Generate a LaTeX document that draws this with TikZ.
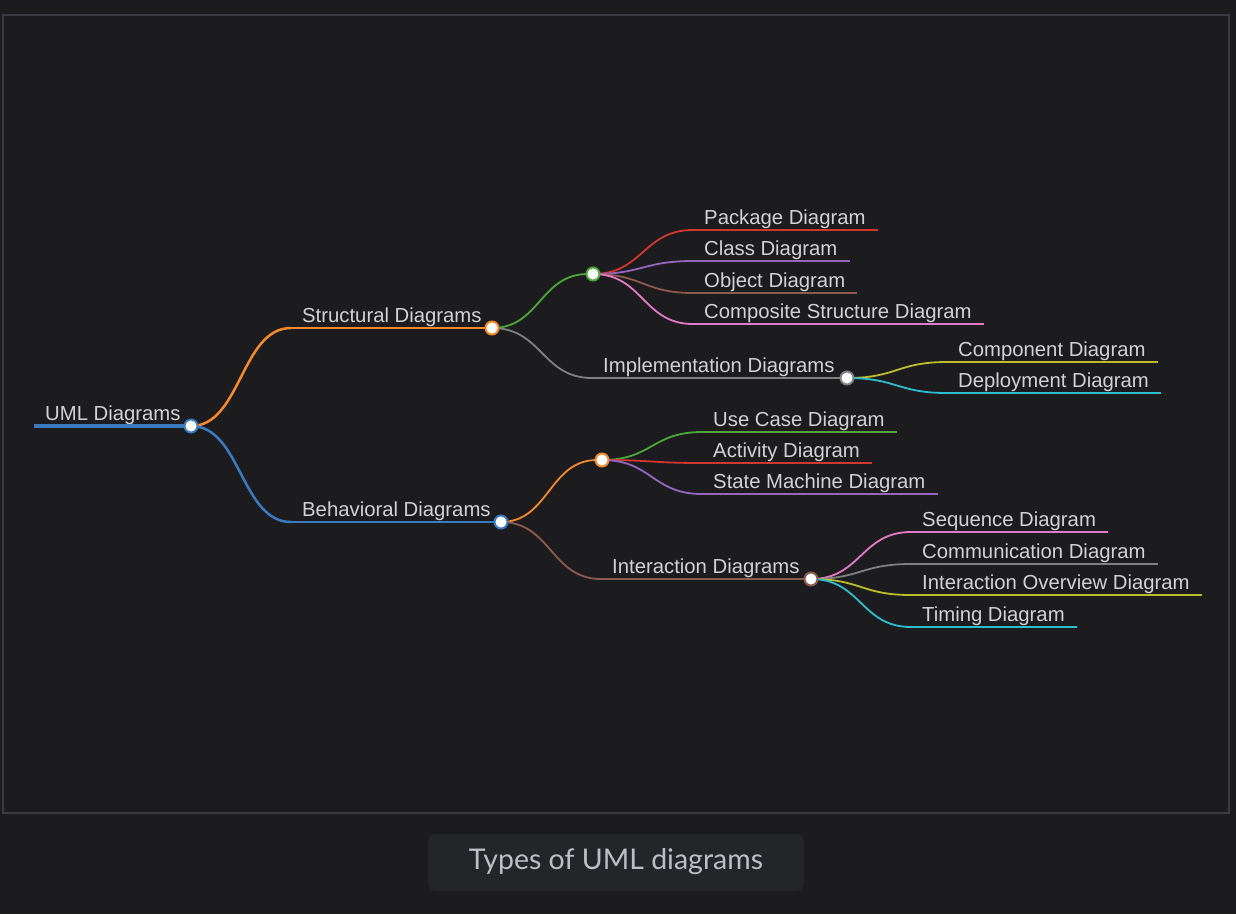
\documentclass[tikz,border=0pt]{standalone}
\usepackage{fontspec}
\setmainfont{Liberation Sans}
\newfontfamily\capfont{Lato}
\usetikzlibrary{calc}
\definecolor{bg}{RGB}{28,28,30}
\definecolor{framec}{RGB}{58,60,66}
\definecolor{capbg}{RGB}{36,37,40}
\definecolor{captxt}{RGB}{190,191,196}
\definecolor{txt}{RGB}{210,210,212}
\definecolor{cblue}{HTML}{3A7BC0}
\definecolor{corange}{HTML}{F58A2C}
\definecolor{cgreen}{HTML}{4CA83A}
\definecolor{cred}{HTML}{D0372F}
\definecolor{cpurple}{HTML}{9467BD}
\definecolor{cbrown}{HTML}{8C5A4E}
\definecolor{cpink}{HTML}{E37AC5}
\definecolor{cgray}{HTML}{808080}
\definecolor{colive}{HTML}{BCBD2A}
\definecolor{ccyan}{HTML}{2EBDCF}
\newcommand\mmlink[4]{\draw[#1,line width=#2] let \p1=(#3), \p2=(#4) in (#3) .. controls ({(\x1+\x2)/2},\y1) and ({(\x1+\x2)/2},\y2) .. (#4);}
\begin{document}
\begin{tikzpicture}[x=1pt,y=-1pt,
  lbl/.style={anchor=base west, inner sep=0pt, text=txt, font=\fontsize{20.3}{24}\selectfont},
  dot/.style={circle, draw=#1, fill=white, line width=2pt, minimum size=13pt, inner sep=0pt},
  framebox/.style={draw=framec, line width=2pt},
  capbox/.style={fill=capbg, rounded corners=8pt},
  captext/.style={text=captxt, font=\capfont\fontsize{28.5}{32}\selectfont}]
\fill[bg] (0,0) rectangle (1236,914);
\useasboundingbox (0,0) rectangle (1236,914);
\draw[framebox] (3,15) rectangle (1229,813);
\fill[capbox] (428,834) rectangle (804,891);
\node[captext] (cap) at (616,862) {Types of UML diagrams};
% coordinates
\coordinate (root-s) at (34,426);  \coordinate (root-c) at (191,426);
\coordinate (str-s) at (291,328);  \coordinate (str-c) at (492,328);
\coordinate (beh-s) at (291,522);  \coordinate (beh-c) at (501,522);
\coordinate (grn-s) at (588,274);  \coordinate (grn-c) at (593,274);
\coordinate (imp-s) at (592,378);  \coordinate (imp-c) at (847,378);
\coordinate (orn-s) at (597,460);  \coordinate (orn-c) at (602,460);
\coordinate (int-s) at (601,579);  \coordinate (int-c) at (811,579);
\coordinate (pkg-s) at (693,230);
\coordinate (cls-s) at (693,261);
\coordinate (obj-s) at (693,293);
\coordinate (cmp-s) at (693,324);
\coordinate (com-s) at (947,362);
\coordinate (dep-s) at (947,393);
\coordinate (use-s) at (702,432);
\coordinate (act-s) at (702,463);
\coordinate (stm-s) at (702,494);
\coordinate (seq-s) at (911,532);
\coordinate (cmm-s) at (911,564);
\coordinate (iov-s) at (911,595);
\coordinate (tim-s) at (911,627);
% labels
\node[lbl] (root-l) at (45,420) {UML Diagrams};
\node[lbl] (str-l) at (302,322) {Structural Diagrams};
\node[lbl] (beh-l) at (302,516) {Behavioral Diagrams};
\node[lbl] (imp-l) at (603,372) {Implementation Diagrams};
\node[lbl] (int-l) at (612,573) {Interaction Diagrams};
\node[lbl] (pkg-l) at (704,224) {Package Diagram};
\node[lbl] (cls-l) at (704,255) {Class Diagram};
\node[lbl] (obj-l) at (704,287) {Object Diagram};
\node[lbl] (cmp-l) at (704,318) {Composite Structure Diagram};
\node[lbl] (com-l) at (958,356) {Component Diagram};
\node[lbl] (dep-l) at (958,387) {Deployment Diagram};
\node[lbl] (use-l) at (713,426) {Use Case Diagram};
\node[lbl] (act-l) at (713,457) {Activity Diagram};
\node[lbl] (stm-l) at (713,488) {State Machine Diagram};
\node[lbl] (seq-l) at (922,526) {Sequence Diagram};
\node[lbl] (cmm-l) at (922,558) {Communication Diagram};
\node[lbl] (iov-l) at (922,589) {Interaction Overview Diagram};
\node[lbl] (tim-l) at (922,621) {Timing Diagram};
% lines
\draw[cblue, line width=4pt] (root-s) -- (root-c);
\mmlink{corange}{2.5pt}{root-c}{str-s}
\draw[corange, line width=2.5pt] (str-s) -- (str-c);
\mmlink{cblue}{2.5pt}{root-c}{beh-s}
\draw[cblue, line width=2.5pt] (beh-s) -- (beh-c);
\mmlink{cgreen}{1.8pt}{str-c}{grn-s}
\draw[cgreen, line width=1.8pt] (grn-s) -- (grn-c);
\mmlink{cgray}{1.8pt}{str-c}{imp-s}
\draw[cgray, line width=1.8pt] (imp-s) -- (imp-c);
\mmlink{corange}{1.8pt}{beh-c}{orn-s}
\draw[corange, line width=1.8pt] (orn-s) -- (orn-c);
\mmlink{cbrown}{1.8pt}{beh-c}{int-s}
\draw[cbrown, line width=1.8pt] (int-s) -- (int-c);
% leaves
\mmlink{cred}{1.8pt}{grn-c}{pkg-s}
\draw[cred, line width=1.8pt] (pkg-s) -- ($(pkg-s -| pkg-l.east)+(12,0)$);
\mmlink{cpurple}{1.8pt}{grn-c}{cls-s}
\draw[cpurple, line width=1.8pt] (cls-s) -- ($(cls-s -| cls-l.east)+(12,0)$);
\mmlink{cbrown}{1.8pt}{grn-c}{obj-s}
\draw[cbrown, line width=1.8pt] (obj-s) -- ($(obj-s -| obj-l.east)+(12,0)$);
\mmlink{cpink}{1.8pt}{grn-c}{cmp-s}
\draw[cpink, line width=1.8pt] (cmp-s) -- ($(cmp-s -| cmp-l.east)+(12,0)$);
\mmlink{colive}{1.8pt}{imp-c}{com-s}
\draw[colive, line width=1.8pt] (com-s) -- ($(com-s -| com-l.east)+(12,0)$);
\mmlink{ccyan}{1.8pt}{imp-c}{dep-s}
\draw[ccyan, line width=1.8pt] (dep-s) -- ($(dep-s -| dep-l.east)+(12,0)$);
\mmlink{cgreen}{1.8pt}{orn-c}{use-s}
\draw[cgreen, line width=1.8pt] (use-s) -- ($(use-s -| use-l.east)+(12,0)$);
\mmlink{cred}{1.8pt}{orn-c}{act-s}
\draw[cred, line width=1.8pt] (act-s) -- ($(act-s -| act-l.east)+(12,0)$);
\mmlink{cpurple}{1.8pt}{orn-c}{stm-s}
\draw[cpurple, line width=1.8pt] (stm-s) -- ($(stm-s -| stm-l.east)+(12,0)$);
\mmlink{cpink}{1.8pt}{int-c}{seq-s}
\draw[cpink, line width=1.8pt] (seq-s) -- ($(seq-s -| seq-l.east)+(12,0)$);
\mmlink{cgray}{1.8pt}{int-c}{cmm-s}
\draw[cgray, line width=1.8pt] (cmm-s) -- ($(cmm-s -| cmm-l.east)+(12,0)$);
\mmlink{colive}{1.8pt}{int-c}{iov-s}
\draw[colive, line width=1.8pt] (iov-s) -- ($(iov-s -| iov-l.east)+(12,0)$);
\mmlink{ccyan}{1.8pt}{int-c}{tim-s}
\draw[ccyan, line width=1.8pt] (tim-s) -- ($(tim-s -| tim-l.east)+(12,0)$);
% circles
\node[dot=cblue] (root) at (root-c) {};
\node[dot=corange] (str) at (str-c) {};
\node[dot=cblue] (beh) at (beh-c) {};
\node[dot=cgreen] (grn) at (grn-c) {};
\node[dot=cgray] (imp) at (imp-c) {};
\node[dot=corange] (orn) at (orn-c) {};
\node[dot=cbrown] (int) at (int-c) {};
\end{tikzpicture}
\end{document}
